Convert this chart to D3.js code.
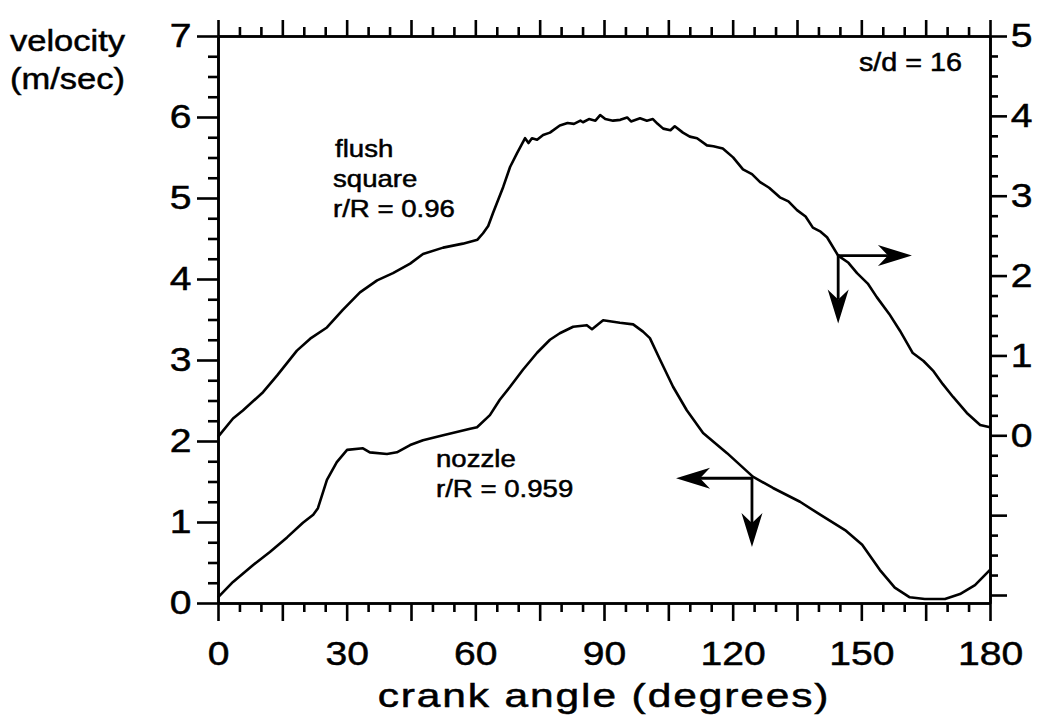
<!DOCTYPE html>
<html>
<head>
<meta charset="utf-8">
<script src="https://cdn.jsdelivr.net/npm/d3@7"></script>
<style>
  html, body { margin: 0; padding: 0; background: #fff; }
  svg { display: block; }
  text { font-family: "Liberation Sans", Arial, Helvetica, sans-serif; fill: #000; stroke: #000; stroke-width: 0.5px; }
</style>
</head>
<body>
<script>
// ---------- data ----------
const xTickLabels = [0, 30, 60, 90, 120, 150, 180];
const leftTickLabels = [0, 1, 2, 3, 4, 5, 6, 7];
const rightTickLabels = [0, 1, 2, 3, 4, 5];

// flush square, r/R = 0.96 (right axis)
const flushAngle = [0, 3.5, 5.8, 10.5, 13.8, 18.4, 21.5, 25.4, 29.1, 33.1, 37.1, 40.8, 44.8, 47.8, 52.5, 57.1, 60.5, 61.8, 63.0, 64.1, 66.5, 68.1, 69.7, 71.6, 72.4, 73.2, 74.4, 75.8, 77.4, 79.7, 81.5, 83.0, 84.5, 85.1, 86.5, 88.0, 89.1, 90.3, 92.1, 93.8, 95.4, 96.3, 98.4, 100.0, 101.4, 102.5, 103.8, 105.5, 106.5, 108.4, 110.0, 111.7, 114.0, 115.5, 117.7, 120.1, 122.4, 124.5, 126.4, 128.5, 131.0, 133.0, 135.0, 137.0, 138.7, 140.5, 142.0, 144.6, 147.0, 149.0, 151.5, 153.6, 156.5, 159.0, 162.0, 164.5, 166.7, 169.0, 171.4, 174.6, 177.7, 180];
const flushVel   = [-0.02, 0.21, 0.31, 0.54, 0.75, 1.06, 1.21, 1.35, 1.57, 1.79, 1.94, 2.03, 2.15, 2.27, 2.35, 2.40, 2.45, 2.53, 2.62, 2.78, 3.11, 3.36, 3.53, 3.72, 3.66, 3.72, 3.70, 3.76, 3.79, 3.88, 3.91, 3.90, 3.94, 3.92, 3.96, 3.94, 4.01, 3.96, 3.94, 3.95, 3.98, 3.93, 3.97, 3.94, 3.96, 3.90, 3.84, 3.82, 3.87, 3.79, 3.74, 3.72, 3.63, 3.62, 3.59, 3.48, 3.33, 3.27, 3.17, 3.10, 2.98, 2.93, 2.82, 2.74, 2.60, 2.55, 2.48, 2.25, 2.16, 2.03, 1.90, 1.73, 1.52, 1.31, 1.03, 0.93, 0.81, 0.64, 0.48, 0.28, 0.13, 0.10];

// nozzle, r/R = 0.959 (left axis)
const nozzleAngle = [0, 3.5, 8.2, 12.1, 16.1, 19.8, 22.2, 23.3, 25.4, 27.7, 30.1, 33.8, 35.4, 39.4, 41.7, 44.8, 47.8, 52.5, 58.8, 60.4, 63.4, 65.7, 68.1, 71.1, 74.4, 77.4, 79.7, 82.8, 86.0, 87.2, 89.8, 93.7, 96.8, 99.1, 100.7, 103.1, 106.1, 109.3, 113.1, 118.7, 124.7, 129.4, 135.7, 140.4, 146.2, 150.2, 154.3, 157.8, 161.3, 164.8, 169.5, 173.0, 176.5, 180];
const nozzleVel   = [0.07, 0.26, 0.47, 0.63, 0.81, 0.99, 1.09, 1.17, 1.52, 1.74, 1.89, 1.91, 1.86, 1.84, 1.86, 1.95, 2.01, 2.07, 2.15, 2.17, 2.32, 2.51, 2.67, 2.88, 3.09, 3.25, 3.33, 3.41, 3.43, 3.38, 3.49, 3.46, 3.44, 3.35, 3.27, 3.00, 2.67, 2.38, 2.10, 1.85, 1.56, 1.42, 1.25, 1.09, 0.90, 0.72, 0.41, 0.19, 0.07, 0.05, 0.05, 0.11, 0.22, 0.41];

// arrows: [start angle, start value, tip angle, tip value]
const flushArrow  = [144.6, 2.25, 161.8, 1.40];
const nozzleArrow = [124.5, 1.54, 106.8, 0.69];

// ---------- layout ----------
const W = 1046, H = 724;
const X0 = 218, X1 = 990, Y0 = 603, Y1 = 36;
const SX = 1.15; // horizontal glyph stretch of the scanned lettering

const svg = d3.select("body").append("svg").attr("width", W).attr("height", H);
svg.append("rect").attr("width", W).attr("height", H).attr("fill", "#fff");

const x = d3.scaleLinear().domain([0, 180]).range([X0, X1]);
const yL = d3.scaleLinear().domain([0, 7]).range([Y0, Y1]);
const yR = d3.scaleLinear().domain([-2.1, 5]).range([Y0, Y1]);

const SW = 2.6;

function styleAxis(g) {
  g.selectAll("path, line").attr("stroke", "#000").attr("stroke-width", SW);
  g.selectAll("text").attr("fill", "#000").style("font-family", '"Liberation Sans", Arial, sans-serif');
}

// bottom axis
const majorX = d3.range(0, 181, 15), minorX = d3.range(0, 181, 5).filter(d => d % 15);
svg.append("g").attr("transform", `translate(0,${Y0})`)
  .call(d3.axisBottom(x).tickValues(minorX).tickSize(9).tickSizeOuter(0).tickFormat(""))
  .call(styleAxis);
const gB = svg.append("g").attr("transform", `translate(0,${Y0})`)
  .call(d3.axisBottom(x).tickValues(majorX).tickSize(18).tickSizeOuter(0).tickPadding(20)
    .tickFormat(d => xTickLabels.includes(d) ? d : ""))
  .call(styleAxis);
gB.selectAll("text").style("font-size", "34px").attr("transform", `scale(${SX},1)`);

// top axis
svg.append("g").attr("transform", `translate(0,${Y1})`)
  .call(d3.axisTop(x).tickValues(minorX).tickSize(9).tickSizeOuter(0).tickFormat(""))
  .call(styleAxis);
svg.append("g").attr("transform", `translate(0,${Y1})`)
  .call(d3.axisTop(x).tickValues(majorX).tickSize(16).tickSizeOuter(0).tickFormat(""))
  .call(styleAxis);

// left axis
const majorL = d3.range(0, 7.01, 1), minorL = d3.range(0, 7.01, 0.25).filter(d => d % 1);
svg.append("g").attr("transform", `translate(${X0},0)`)
  .call(d3.axisLeft(yL).tickValues(minorL).tickSize(10).tickSizeOuter(0).tickFormat(""))
  .call(styleAxis);
const gL = svg.append("g").attr("transform", `translate(${X0},0)`)
  .call(d3.axisLeft(yL).tickValues(majorL).tickSize(21).tickSizeOuter(0).tickPadding(2)
    .tickFormat(d => leftTickLabels.includes(d) ? d : ""))
  .call(styleAxis);
gL.selectAll("text").style("font-size", "34px").attr("transform", `scale(${SX},1)`);

// right axis
const majorR = d3.range(-2, 5.01, 1), minorR = d3.range(-2, 5.01, 0.25).filter(d => d % 1);
svg.append("g").attr("transform", `translate(${X1},0)`)
  .call(d3.axisRight(yR).tickValues(minorR).tickSize(8).tickSizeOuter(0).tickFormat(""))
  .call(styleAxis);
const gR = svg.append("g").attr("transform", `translate(${X1},0)`)
  .call(d3.axisRight(yR).tickValues(majorR).tickSize(17).tickSizeOuter(0).tickPadding(1)
    .tickFormat(d => rightTickLabels.includes(d) ? d : ""))
  .call(styleAxis);
gR.selectAll("text").style("font-size", "34px").attr("transform", `scale(${SX},1)`);

// curves
const flushData = flushAngle.map((a, i) => [a, flushVel[i]]);
const nozzleData = nozzleAngle.map((a, i) => [a, nozzleVel[i]]);
svg.append("path").datum(flushData)
  .attr("fill", "none").attr("stroke", "#000").attr("stroke-width", 2.6).attr("stroke-linejoin", "round")
  .attr("d", d3.line().x(d => x(d[0])).y(d => yR(d[1])));
svg.append("path").datum(nozzleData)
  .attr("fill", "none").attr("stroke", "#000").attr("stroke-width", 2.6).attr("stroke-linejoin", "round")
  .attr("d", d3.line().x(d => x(d[0])).y(d => yL(d[1])));

// arrows
function arrowHead(tx, ty, dx, dy) {
  const L = 34, Wd = 10.5, N = 24;
  const px = -dy, py = dx;
  const bx = tx - dx * L, by = ty - dy * L;
  const nx = tx - dx * N, ny = ty - dy * N;
  return `M${tx},${ty}L${bx + px * Wd},${by + py * Wd}L${nx},${ny}L${bx - px * Wd},${by - py * Wd}Z`;
}
function drawArrows(arr, ys) {
  const sx = x(arr[0]), sy = ys(arr[1]);
  const hx = x(arr[2]), vy = ys(arr[3]);
  svg.append("line").attr("x1", sx).attr("y1", sy).attr("x2", hx - Math.sign(hx - sx) * 24).attr("y2", sy)
    .attr("stroke", "#000").attr("stroke-width", 2.8);
  svg.append("line").attr("x1", sx).attr("y1", sy - 1.4).attr("x2", sx).attr("y2", vy - 24)
    .attr("stroke", "#000").attr("stroke-width", 2.8);
  svg.append("path").attr("d", arrowHead(hx, sy, Math.sign(hx - sx), 0)).attr("fill", "#000");
  svg.append("path").attr("d", arrowHead(sx, vy, 0, 1)).attr("fill", "#000");
}
drawArrows(flushArrow, yR);
drawArrows(nozzleArrow, yL);

// labels
function label(str, px, py, size, anchor, sx, spacing) {
  svg.append("text")
    .attr("transform", `translate(${px},${py}) scale(${sx || SX},1)`)
    .attr("text-anchor", anchor || "start")
    .style("font-size", size + "px")
    .style("letter-spacing", (spacing || 0) + "px")
    .text(str);
}
label("velocity", 10, 51, 30);
label("(m/sec)", 10, 89, 30);
label("crank angle (degrees)", (X0 + X1) / 2, 707, 34, "middle", 1.25, 1.5);
label("s/d = 16", 962, 71, 25, "end");
label("flush", 335, 157, 24);
label("square", 333, 187, 24);
label("r/R = 0.96", 333, 217, 24);
label("nozzle", 436, 467, 24);
label("r/R = 0.959", 436, 497, 24);
</script>
</body>
</html>
